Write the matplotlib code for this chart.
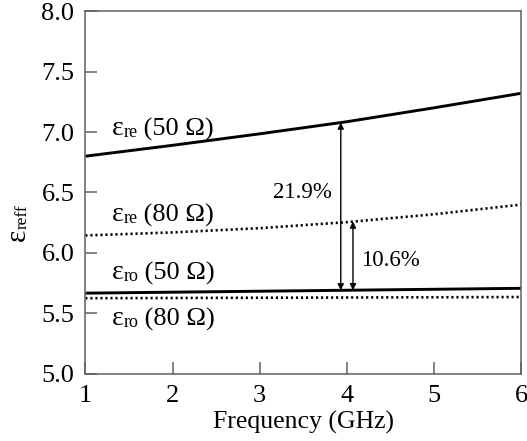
import matplotlib
matplotlib.use('Agg')
import matplotlib.pyplot as plt
import numpy as np

plt.rcParams['font.family'] = ['Liberation Serif', 'DejaVu Serif']

# frequency in GHz
freq = [1, 2, 3, 4, 5, 6]
# effective permittivity
ere_50 = [6.80, 6.89, 6.985, 7.085, 7.20, 7.32]
ere_80 = [6.145, 6.17, 6.205, 6.255, 6.32, 6.40]
ero_50 = [5.668, 5.676, 5.684, 5.692, 5.70, 5.708]
ero_80 = [5.626, 5.628, 5.630, 5.632, 5.634, 5.636]

xticks = [1, 2, 3, 4, 5, 6]
yticks = [5.0, 5.5, 6.0, 6.5, 7.0, 7.5, 8.0]

curve_labels = [('re', '50', 6.975), ('re', '80', 6.265), ('ro', '50', 5.785), ('ro', '80', 5.405)]
pct_1, pct_2 = '21.9%', '10.6%'
arrow_x1, arrow_x2 = 3.93, 4.07

edge = '#606060'

fig = plt.figure(figsize=(5.27, 4.41), dpi=100)
ax = fig.add_axes([0.162, 0.152, 0.827, 0.823])

dots = (0, (0.8, 1.1))
ax.plot(freq, ere_50, color='black', lw=2.1, solid_capstyle='butt')
ax.plot(freq, ere_80, color='black', lw=1.9, linestyle=dots, dash_capstyle='butt')
ax.plot(freq, ero_50, color='black', lw=2.1, solid_capstyle='butt')
ax.plot(freq, ero_80, color='black', lw=1.9, linestyle=dots, dash_capstyle='butt')

ax.set_xlim(1, 6)
ax.set_ylim(5.0, 8.0)
ax.set_xticks(xticks)
ax.set_yticks(yticks)
ax.set_xticklabels([str(v) for v in xticks])
ax.set_yticklabels(['%.1f' % v for v in yticks])
ax.tick_params(direction='in', length=8.5, width=1.1, color=edge, labelsize=19)
ax.tick_params(axis='y', pad=8)
ax.tick_params(axis='x', pad=8)
for s in ax.spines.values():
    s.set_color(edge)
    s.set_linewidth(1.1)

ax.set_xlabel('Frequency (GHz)', fontsize=18.5, labelpad=3)

# y label: epsilon with small "reff"
t_eps = fig.text(0.058, 1 - 241 / 441, 'ε', fontsize=21, rotation=90, ha='right', va='bottom')
ax.annotate('reff', xy=(1, 1), xycoords=t_eps, fontsize=12.5, rotation=90,
            ha='right', va='bottom', annotation_clip=False)


def eps_label(x, y, sub, ohm):
    t1 = ax.text(x, y, 'ε', fontsize=20, va='baseline', ha='left')
    t2 = ax.annotate(sub, xy=(1, 0), xycoords=t1, fontsize=13, ha='left', va='bottom')
    ax.annotate(' (%s Ω)' % ohm, xy=(1, 0), xycoords=(t2, t1), fontsize=19,
                ha='left', va='bottom')


for sub, ohm, y in curve_labels:
    eps_label(1.30, y, sub, ohm)

# double arrows between curves
y_top1 = np.interp(arrow_x1, freq, ere_50)
y_bot1 = np.interp(arrow_x1, freq, ero_50)
y_top2 = np.interp(arrow_x2, freq, ere_80)
y_bot2 = np.interp(arrow_x2, freq, ero_50)
aprops = dict(arrowstyle='<|-|>', color='black', lw=1.0, mutation_scale=9,
              shrinkA=0, shrinkB=0)
ax.annotate('', xy=(arrow_x1, y_top1), xytext=(arrow_x1, y_bot1), arrowprops=aprops)
ax.annotate('', xy=(arrow_x2, y_top2), xytext=(arrow_x2, y_bot2), arrowprops=aprops)

ax.text(3.83, 6.50, pct_1, fontsize=16.5, ha='right', va='center')
ax.text(4.16, 5.94, pct_2, fontsize=16.5, ha='left', va='center')

fig.savefig('out.png', dpi=100)
